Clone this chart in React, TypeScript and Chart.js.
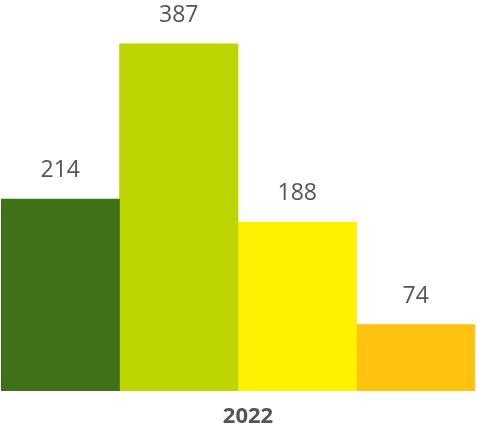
import React, { useEffect, useRef } from "react";
import { Chart, registerables } from "chart.js";

Chart.register(...registerables);

const categories = ["2022"];
const seriesNames = ["A", "B", "C", "D"];
const seriesValues = [214, 387, 188, 74];
const seriesColors = ["#3f7119", "#bed600", "#fff200", "#ffc20e"];
const yMax = 436;

const FONT = "'Open Sans', 'Noto Sans', sans-serif";

const labelsPlugin = {
  id: "valueLabels",
  afterDatasetsDraw(chart: any) {
    const ctx = chart.ctx;
    ctx.save();
    ctx.fillStyle = "#555555";
    ctx.font = `23px ${FONT}`;
    ctx.textAlign = "center";
    ctx.textBaseline = "alphabetic";
    chart.data.datasets.forEach((ds: any, i: number) => {
      const meta = chart.getDatasetMeta(i);
      meta.data.forEach((bar: any, j: number) => {
        ctx.fillText(String(ds.data[j]), bar.x, bar.y - 22);
      });
    });
    const area = chart.chartArea;
    ctx.font = `bold 22px ${FONT}`;
    ctx.fillStyle = "#555555";
    const xScale = chart.scales.x;
    chart.data.labels.forEach((lab: string, j: number) => {
      const cx = xScale.getPixelForValue(j) + 10;
      ctx.fillText(lab, cx, area.bottom + 32);
    });
    ctx.restore();
  },
};

export default function App() {
  const ref = useRef<HTMLCanvasElement | null>(null);
  useEffect(() => {
    if (!ref.current) return;
    const chart = new Chart(ref.current, {
      type: "bar",
      data: {
        labels: categories,
        datasets: seriesValues.map((v, i) => ({
          label: seriesNames[i],
          data: [v],
          backgroundColor: seriesColors[i],
          borderWidth: 0,
          categoryPercentage: 1,
          barPercentage: 1,
        })),
      },
      options: {
        animation: false,
        responsive: false,
        maintainAspectRatio: false,
        layout: { padding: { left: 1, right: 2, top: 0, bottom: 39 } },
        plugins: {
          legend: { display: false },
          tooltip: { enabled: false },
          title: { display: false },
        },
        scales: {
          x: { display: false },
          y: { display: false, min: 0, max: yMax },
        },
      },
      plugins: [labelsPlugin],
    });
    return () => chart.destroy();
  }, []);
  return (
    <div style={{ position: "fixed", left: 0, top: 0, width: 477, height: 430, background: "#fff" }}>
      <canvas ref={ref} width={477} height={430} style={{ display: "block", width: 477, height: 430 }} />
    </div>
  );
}
